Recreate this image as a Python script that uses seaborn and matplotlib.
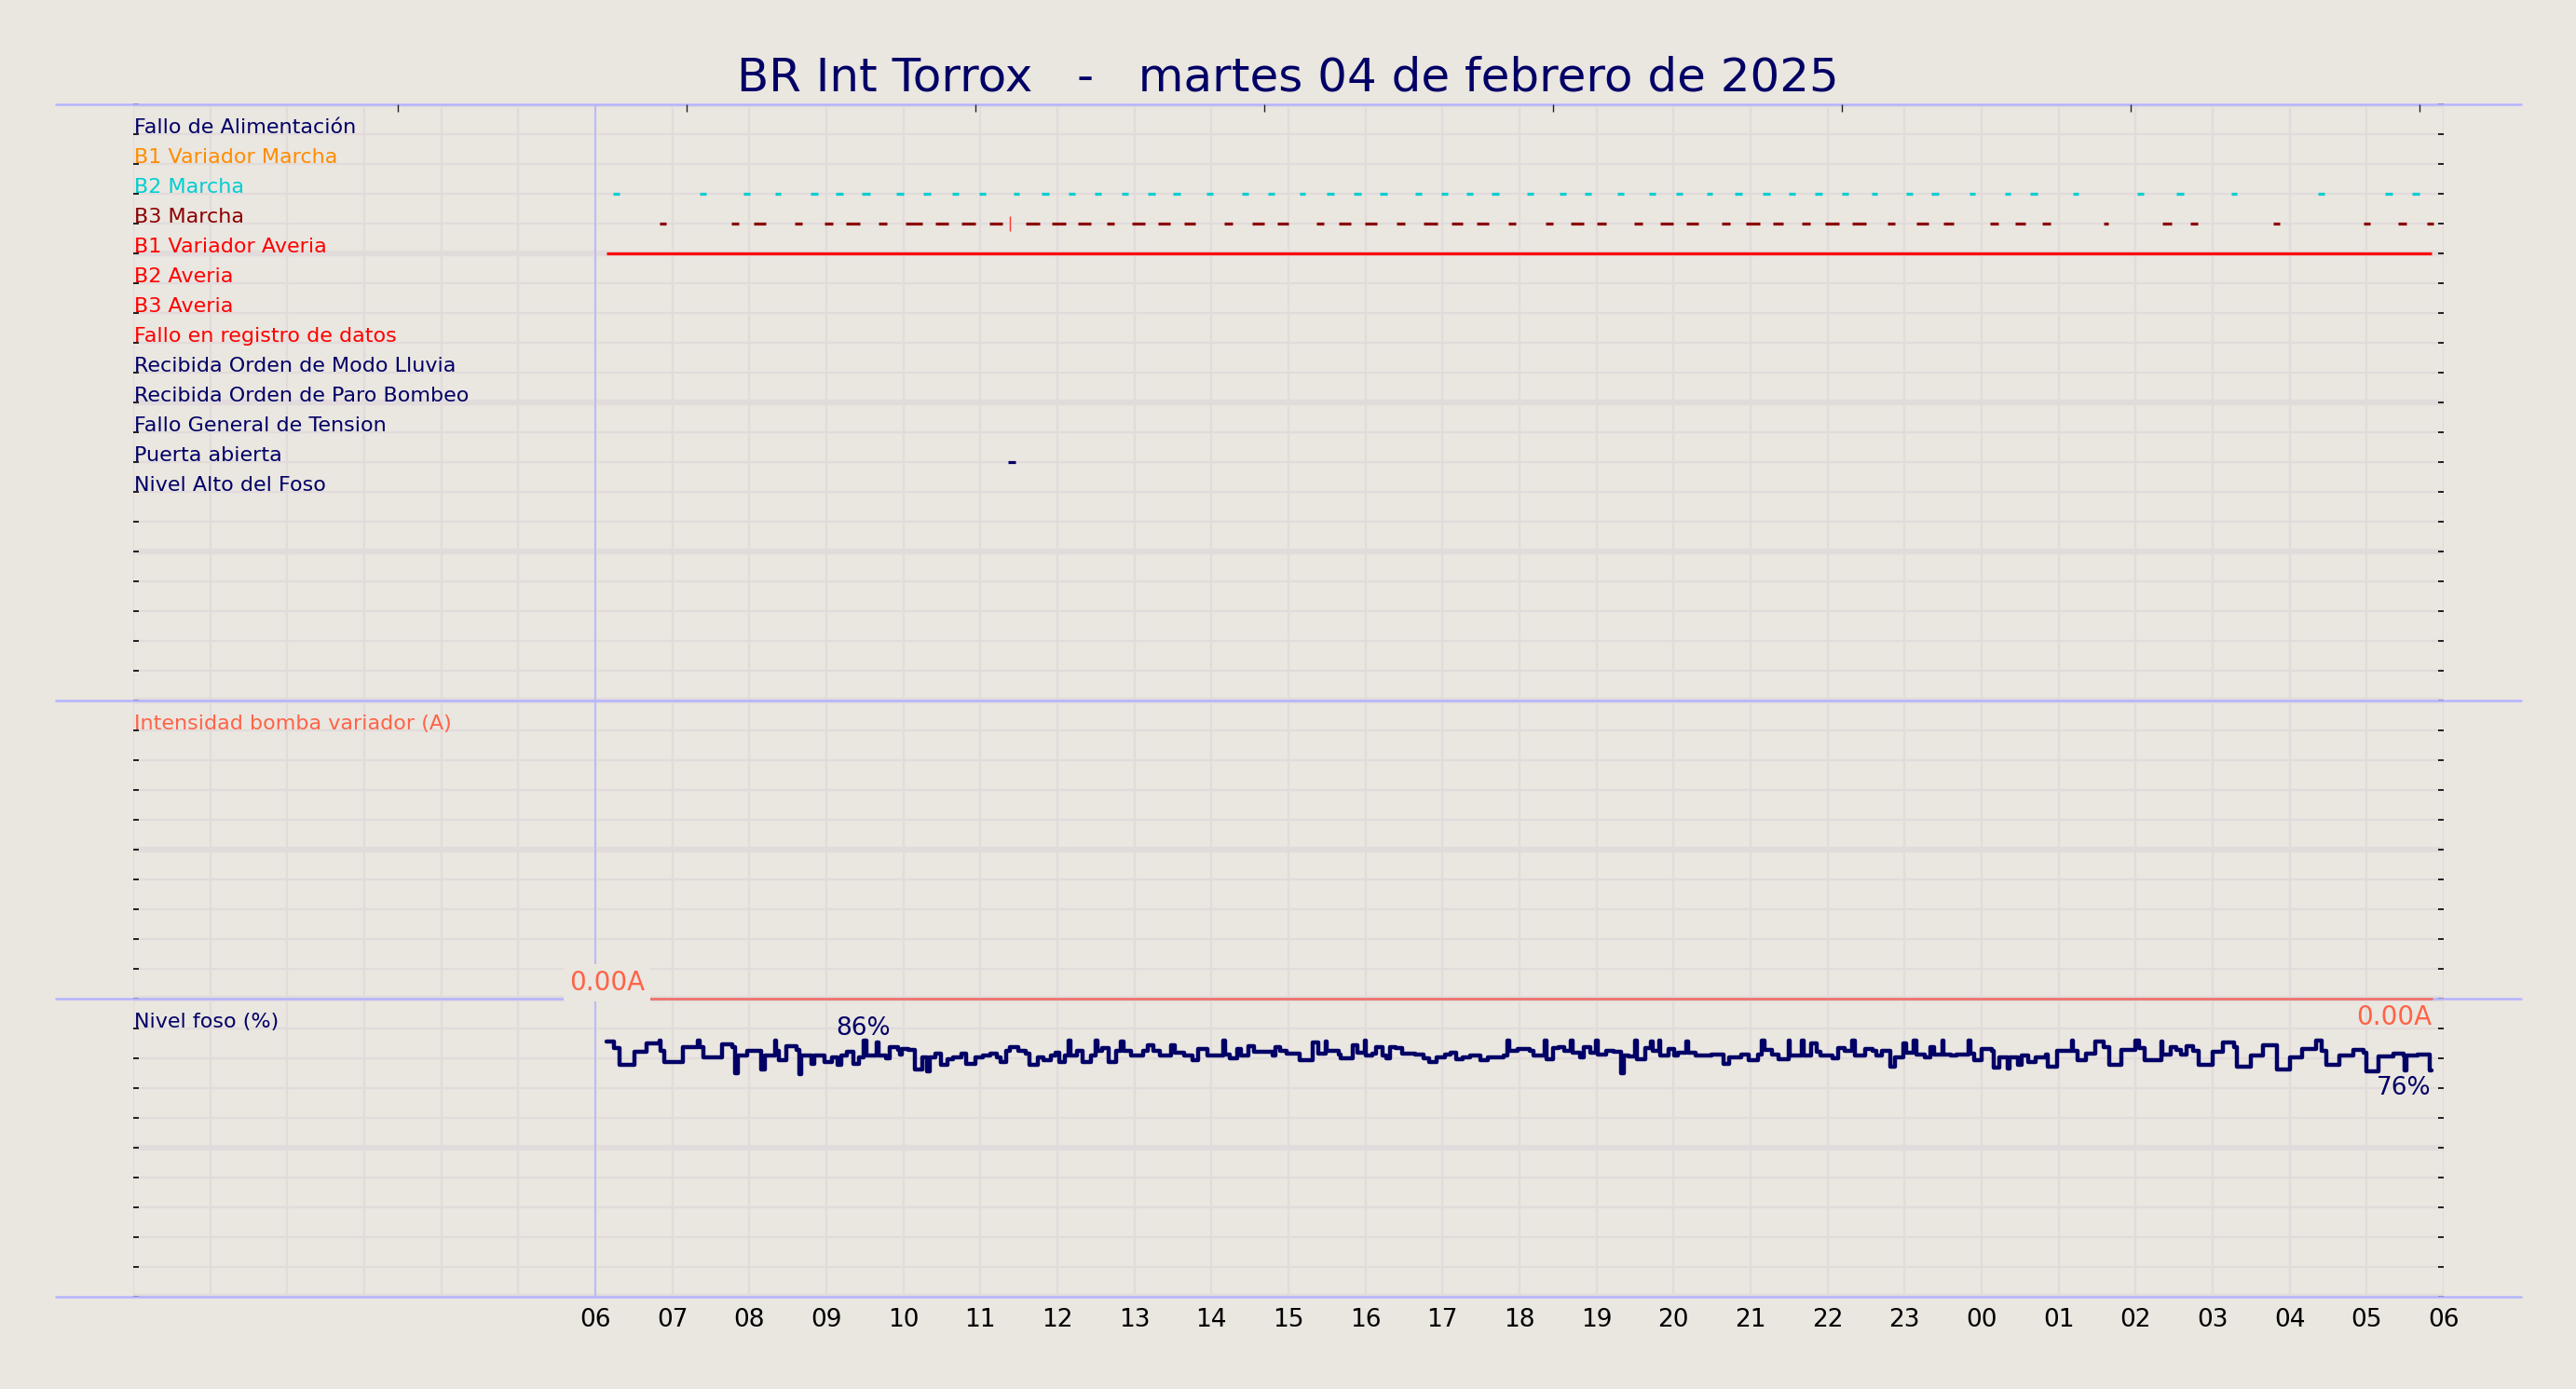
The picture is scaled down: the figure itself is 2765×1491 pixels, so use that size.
import numpy as np
import matplotlib
matplotlib.use("Agg")
import matplotlib.pyplot as plt
import seaborn as sns

BG = "#eae6e0"
GRID = "#e1dcdb"
NAVY = "#000066"
SEP = "#b4b4ff"
TOMATO = "#ff6347"

title = "BR Int Torrox   -   martes 04 de febrero de 2025"

signal_labels = [
    "Fallo de Alimentación", "B1 Variador Marcha", "B2 Marcha", "B3 Marcha",
    "B1 Variador Averia", "B2 Averia", "B3 Averia", "Fallo en registro de datos",
    "Recibida Orden de Modo Lluvia", "Recibida Orden de Paro Bombeo",
    "Fallo General de Tension", "Puerta abierta", "Nivel Alto del Foso",
]
signal_colors = [
    NAVY, "#ff8c00", "#00ced1", "#8b0000", "#ff0000", "#ff0000", "#ff0000",
    "#ff0000", NAVY, NAVY, NAVY, NAVY, NAVY,
]
intensity_label = "Intensidad bomba variador (A)"
level_label = "Nivel foso (%)"

hour_labels = ["06", "07", "08", "09", "10", "11", "12", "13", "14", "15", "16",
               "17", "18", "19", "20", "21", "22", "23", "00", "01", "02", "03",
               "04", "05", "06"]
top_ticks = [3.435, 7.185, 10.935, 14.685, 18.435, 22.185, 25.935, 29.685]

# B2 Marcha (on / off, hours from 00h of the previous day)
b2_on = [6.23, 7.36, 7.92, 8.33, 8.80, 9.12, 9.46, 9.91, 10.26, 10.63, 10.98,
         11.43, 11.80, 12.14, 12.48, 12.83, 13.17, 13.50, 13.94, 14.39, 14.73,
         15.14, 15.50, 15.85, 16.19, 16.64, 16.98, 17.31, 17.64, 18.10, 18.52,
         18.85, 19.27, 19.68, 20.03, 20.43, 20.80, 21.16, 21.49, 21.84, 22.18,
         22.57, 23.02, 23.35, 23.84, 24.30, 24.63, 25.18, 26.02, 26.53, 27.24,
         28.37, 29.24, 29.59]
b2_off = [6.31, 7.44, 8.01, 8.41, 8.89, 9.22, 9.57, 10.00, 10.35, 10.72, 11.07,
          11.51, 11.89, 12.23, 12.57, 12.92, 13.27, 13.60, 14.02, 14.48, 14.82,
          15.22, 15.59, 15.94, 16.28, 16.73, 17.07, 17.40, 17.73, 18.18, 18.60,
          18.93, 19.35, 19.77, 20.12, 20.51, 20.89, 21.25, 21.58, 21.93, 22.27,
          22.65, 23.10, 23.44, 23.92, 24.38, 24.72, 25.26, 26.11, 26.62, 27.32,
          28.45, 29.33, 29.68]

# B3 Marcha
b3_on = [6.83, 7.77, 8.06, 8.59, 8.97, 9.25, 9.68, 10.03, 10.42, 10.76, 11.12,
         11.59, 11.93, 12.27, 12.64, 12.97, 13.31, 13.64, 14.17, 14.53, 14.86,
         15.36, 15.65, 15.99, 16.40, 16.76, 17.12, 17.44, 17.86, 18.34, 18.67,
         19.00, 19.49, 19.83, 20.17, 20.62, 20.94, 21.29, 21.66, 21.97, 22.32,
         22.78, 23.15, 23.50, 24.11, 24.43, 24.79, 25.58, 26.35, 26.71, 27.79,
         28.96, 29.41, 29.78]
b3_off = [6.92, 7.86, 8.21, 8.69, 9.08, 9.43, 9.79, 10.24, 10.59, 10.93, 11.29,
          11.77, 12.11, 12.44, 12.74, 13.14, 13.46, 13.79, 14.28, 14.68, 15.00,
          15.46, 15.81, 16.15, 16.51, 16.93, 17.26, 17.60, 17.95, 18.44, 18.83,
          19.13, 19.60, 19.99, 20.32, 20.73, 21.12, 21.42, 21.77, 22.15, 22.50,
          22.88, 23.31, 23.64, 24.22, 24.57, 24.90, 25.65, 26.47, 26.81, 27.87,
          29.04, 29.52, 29.87]

b1_averia_on = [6.15]
b1_averia_off = [29.84]
puerta_on = [11.36]
puerta_off = [11.46]
cursor_hour = 11.38

intensity_hours = [6.15, 29.84]
intensity_values = [0.0, 0.0]

level_hours = [
    6.14, 6.24, 6.31, 6.51, 6.66, 6.83, 6.85, 6.90, 7.14, 7.33, 7.36, 7.40,
    7.64, 7.78, 7.82, 7.85, 7.97, 8.07, 8.15, 8.20, 8.33, 8.35, 8.38, 8.48,
    8.61, 8.65, 8.67, 8.81, 8.84, 8.97, 9.07, 9.14, 9.19, 9.27, 9.35, 9.42,
    9.48, 9.52, 9.65, 9.68, 9.78, 9.82, 9.93, 9.96, 9.98, 10.06, 10.15, 10.24,
    10.31, 10.34, 10.42, 10.49, 10.57, 10.65, 10.76, 10.82, 10.93, 11.03, 11.13,
    11.21, 11.26, 11.33, 11.38, 11.49, 11.59, 11.64, 11.74, 11.82, 11.92, 11.97,
    12.02, 12.10, 12.15, 12.17, 12.25, 12.33, 12.43, 12.49, 12.52, 12.58, 12.66,
    12.76, 12.82, 12.86, 12.96, 13.11, 13.17, 13.24, 13.33, 13.47, 13.52, 13.65,
    13.75, 13.83, 13.95, 14.15, 14.18, 14.24, 14.33, 14.38, 14.48, 14.55, 14.79,
    14.83, 14.89, 14.98, 15.15, 15.31, 15.39, 15.48, 15.50, 15.65, 15.68, 15.83,
    15.89, 15.99, 16.01, 16.09, 16.14, 16.22, 16.27, 16.32, 16.39, 16.47, 16.65,
    16.75, 16.83, 16.92, 17.03, 17.11, 17.18, 17.26, 17.36, 17.49, 17.59, 17.80,
    17.84, 17.87, 17.97, 18.13, 18.18, 18.33, 18.35, 18.43, 18.51, 18.58, 18.66,
    18.69, 18.79, 18.84, 18.92, 18.99, 19.02, 19.12, 19.22, 19.32, 19.35, 19.42,
    19.50, 19.53, 19.63, 19.70, 19.73, 19.81, 19.83, 19.93, 20.01, 20.06, 20.16,
    20.19, 20.29, 20.49, 20.65, 20.72, 20.88, 20.98, 21.10, 21.15, 21.18, 21.28,
    21.36, 21.49, 21.51, 21.66, 21.69, 21.79, 21.86, 21.91, 22.06, 22.14, 22.22,
    22.32, 22.35, 22.49, 22.58, 22.63, 22.71, 22.81, 22.87, 22.98, 23.02, 23.12,
    23.15, 23.26, 23.33, 23.38, 23.49, 23.51, 23.60, 23.67, 23.83, 23.86, 23.90,
    24.00, 24.13, 24.16, 24.23, 24.34, 24.36, 24.47, 24.52, 24.60, 24.70, 24.83,
    24.86, 24.98, 25.17, 25.19, 25.24, 25.35, 25.48, 25.58, 25.66, 25.81, 25.99,
    26.04, 26.12, 26.33, 26.35, 26.46, 26.53, 26.59, 26.66, 26.74, 26.82, 27.00,
    27.13, 27.28, 27.31, 27.49, 27.65, 27.83, 28.01, 28.16, 28.34, 28.42, 28.47,
    28.65, 28.83, 28.96, 28.99, 29.15, 29.35, 29.48, 29.49, 29.52, 29.66, 29.82,
    29.84,
]
level_values = [
    85.6, 83.4, 77.9, 82.1, 85.0, 85.8, 82.4, 78.9, 83.9, 85.8, 83.9, 80.3,
    84.7, 83.8, 75.1, 80.8, 82.4, 82.6, 76.1, 80.8, 85.8, 82.4, 79.3, 84.2,
    82.9, 74.8, 80.8, 78.2, 81.0, 78.8, 80.3, 77.7, 80.8, 82.1, 78.2, 80.3,
    86.0, 80.8, 85.2, 80.8, 80.0, 83.8, 82.9, 81.1, 83.1, 82.9, 76.1, 80.3,
    75.6, 80.3, 81.7, 77.9, 79.6, 80.3, 81.7, 78.2, 80.3, 81.0, 81.7,
    80.3, 78.9, 82.4, 83.8, 82.4, 81.7, 77.9, 80.3, 79.3, 80.8, 81.9,
    78.8, 80.8, 85.8, 80.8, 82.4, 78.8, 80.8, 85.8, 82.4, 83.4, 78.9,
    82.4, 85.5, 82.4, 80.8, 82.4, 84.5, 82.4, 80.8, 84.5, 81.9, 80.8,
    79.3, 83.1, 80.8, 85.8, 81.4, 80.0, 83.1, 80.8, 84.2, 82.1, 80.8,
    83.8, 82.4, 81.7, 79.3, 85.2, 81.7, 85.5, 82.4, 81.4, 80.0, 84.5,
    81.9, 85.8, 80.8, 81.7, 83.9, 80.8, 80.0, 83.9, 83.4, 81.7, 81.4,
    80.0, 78.8, 80.3, 81.4, 81.9, 79.8, 80.3, 81.0, 79.3, 80.3, 80.8,
    85.8, 82.4, 83.1, 82.4, 80.8, 85.8, 79.8, 83.4, 83.8, 82.4, 85.8,
    81.9, 80.3, 83.9, 81.9, 85.8, 81.4, 82.4, 82.1, 75.1, 80.8, 80.5,
    85.8, 79.8, 83.4, 85.5, 82.4, 85.8, 80.8, 83.1, 80.8, 81.9, 85.5,
    81.9, 81.0, 81.4, 78.2, 80.3, 81.4, 79.3, 81.4, 85.8, 82.9, 81.4,
    79.8, 85.8, 80.8, 85.8, 80.8, 85.0, 82.1, 81.0, 80.0, 83.4, 82.4,
    85.8, 80.8, 83.1, 82.4, 80.8, 82.4, 77.2, 80.3, 85.0, 81.9, 85.8,
    81.4, 80.3, 83.9, 81.4, 85.8, 81.4, 80.8, 81.4, 85.8, 81.7, 79.3,
    83.1, 82.4, 76.9, 80.3, 76.7, 80.3, 77.7, 80.8, 78.9, 80.3, 81.4,
    77.2, 82.4, 85.8, 82.4, 79.3, 81.7, 85.5, 83.9, 77.9, 82.9, 85.8,
    83.4, 79.3, 85.5, 81.4, 83.8, 82.9, 81.4, 84.2, 82.4, 77.9, 82.1,
    85.2, 83.8, 77.2, 80.8, 84.5, 76.1, 80.3, 83.1, 85.8, 82.4, 77.7,
    80.8, 82.9, 81.9, 75.6, 80.6, 81.7, 81.0, 75.9, 81.0, 81.4, 76.0,
    76.0,
]

sns.set_theme(style="white")
plt.rcParams["font.family"] = ["DejaVu Sans"]

fig = plt.figure(figsize=(27.65, 14.91), dpi=100, facecolor=BG)
ax = fig.add_axes([143 / 2765, 99 / 1491, 2480 / 2765, 1280 / 1491])
ax.set_facecolor(BG)
ax.set_xlim(0, 30)
ax.set_ylim(0, 40)
for s in ax.spines.values():
    s.set_visible(False)

# grid: hourly verticals, one line per row, thick every 5 rows
ax.set_xticks(range(31))
ax.set_xticklabels([""] * 6 + hour_labels)
ax.set_yticks(range(0, 41, 5))
ax.set_yticks(range(41), minor=True)
ax.set_yticklabels([])
ax.set_axisbelow(True)
ax.grid(True, which="major", axis="y", color=GRID, lw=4.5)
ax.grid(True, which="minor", axis="y", color=GRID, lw=1.6)
ax.grid(True, which="major", axis="x", color=GRID, lw=1.6)
ax.tick_params(axis="x", length=0, pad=9, labelsize=19, labelcolor="black")
ax.tick_params(axis="y", which="both", direction="in", length=4, width=1.2,
               color="black", left=True, right=True, labelleft=False)

ax_top = ax.twiny()
ax_top.set_xlim(0, 30)
ax_top.set_xticks(top_ticks)
ax_top.tick_params(axis="x", direction="in", length=6, width=1, color="#222222",
                   top=True, labeltop=False)
ax_top.grid(False)
for s in ax_top.spines.values():
    s.set_visible(False)

# panel separators
for y in [40, 20, 10, 0]:
    ax.plot([-0.0335, 1.0335], [y, y], transform=ax.get_yaxis_transform(),
            color=SEP, lw=1.8, clip_on=False, zorder=2)
ax.axvline(6, color=SEP, lw=1.2, zorder=2)

# digital signals
rows = [39 - i for i in range(len(signal_labels))]
for label, color, y in zip(signal_labels, signal_colors, rows):
    ax.text(0.01, y + 0.03, label, color=color, fontsize=16, ha="left",
            va="baseline", zorder=4)

events = [
    (b2_on, b2_off, rows[2], signal_colors[2]),
    (b3_on, b3_off, rows[3], signal_colors[3]),
    (b1_averia_on, b1_averia_off, rows[4], signal_colors[4]),
    (puerta_on, puerta_off, rows[11], signal_colors[11]),
]
for on, off, y, color in events:
    lc = ax.hlines([y] * len(on), on, off, color=color, lw=2.3, zorder=3)
    lc.set_capstyle("butt")
ax.vlines(cursor_hour, rows[3] - 0.25, rows[3] + 0.25, color="#ff3030", lw=1, zorder=3)

# analog panels
ax.text(0.01, 19 + 0.03, intensity_label, color=TOMATO, fontsize=16,
        ha="left", va="baseline", zorder=4)
ax.text(0.01, 9 + 0.03, level_label, color=NAVY, fontsize=16,
        ha="left", va="baseline", zorder=4)

intensity_y = 10 + np.array(intensity_values)
sns.lineplot(x=intensity_hours, y=intensity_y, color=TOMATO, lw=2, alpha=0.8,
             ax=ax, estimator=None, zorder=3)
ax.text(intensity_hours[0], 10.53, f"{intensity_values[0]:.2f}A", color=TOMATO,
        fontsize=20, ha="center", va="center", zorder=6,
        bbox=dict(fc=BG, ec="none", pad=4))
ax.text(intensity_hours[-1], 9.38, f"{intensity_values[-1]:.2f}A", color=TOMATO,
        fontsize=20, ha="right", va="center", zorder=6)

level_y = np.array(level_values) / 10
sns.lineplot(x=level_hours, y=level_y, color=NAVY, lw=3.2, ax=ax,
             estimator=None, drawstyle="steps-post", zorder=3)
i_max = int(np.argmax(level_values))
ax.text(level_hours[i_max], level_y[i_max] + 0.4, f"{level_values[i_max]:.0f}%",
        color=NAVY, fontsize=19, ha="center", va="center", zorder=6)
ax.text(level_hours[-1], level_y[-1] - 0.6, f"{level_values[-1]:.0f}%",
        color=NAVY, fontsize=19, ha="right", va="center", zorder=6)

ax.set_xlabel("")
ax.set_ylabel("")
ax.set_xlim(0, 30)
ax.set_ylim(0, 40)

fig.text(0.5, 1 - 98 / 1491, title, color=NAVY, fontsize=36, ha="center",
         va="baseline")

fig.savefig("out.png", dpi=100, facecolor=BG)
